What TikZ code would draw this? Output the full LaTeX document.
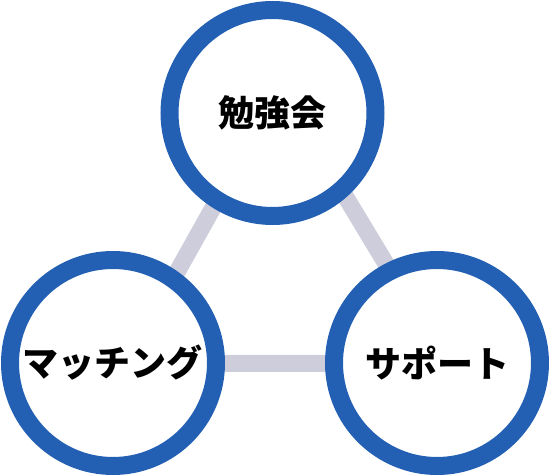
\documentclass[tikz,border=0pt]{standalone}
\usepackage{fontspec}
\newfontfamily\jpfont{Noto Sans CJK JP}
\definecolor{ringblue}{HTML}{2360B4}
\definecolor{linkgray}{HTML}{CDCDDB}
\begin{document}
\begin{tikzpicture}[x=1pt,y=-1pt,
  ring/.style={circle,draw=ringblue,line width=18pt,fill=white,minimum size=206pt,inner sep=0pt,
    font=\jpfont\bfseries\fontsize{36pt}{40pt}\selectfont,text=black},
  link/.style={draw=linkgray,line width=17pt}]
\useasboundingbox (0,0) rectangle (550,476);
\coordinate (ta) at (280,88);
\coordinate (tl) at (126,363.3);
\coordinate (tr) at (446,363.3);
\draw[link] (ta) -- (tl) -- (tr) -- cycle;
\node[ring] (top) at (272.5,113) {勉強会};
\node[ring] (left) at (113,363) {マッチング};
\node[ring] (right) at (437,363) {サポート};
\end{tikzpicture}
\end{document}
